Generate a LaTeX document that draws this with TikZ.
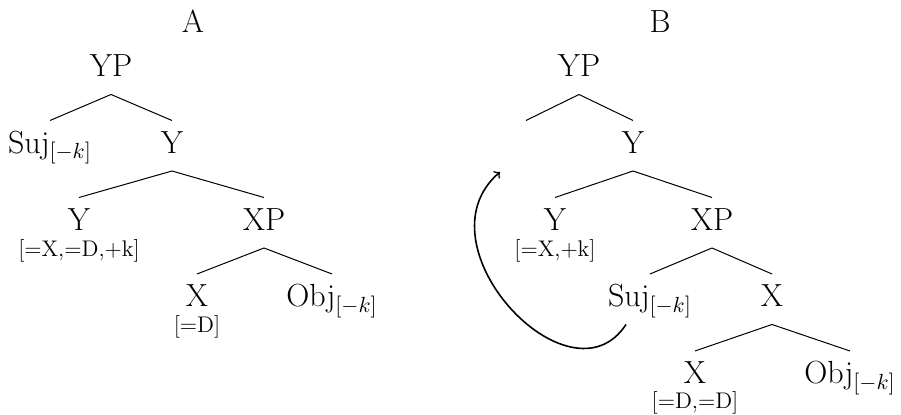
\documentclass[tikz,border=0pt]{standalone}
\begin{document}
\begin{tikzpicture}[x=0.5pt,y=-0.5pt,
  lab/.style={font=\fontsize{16}{19}\selectfont, anchor=base, inner sep=0pt, outer sep=0pt, text height=16.5pt, text depth=8.75pt},
  feat/.style={font=\fontsize{11.3}{13}\selectfont, anchor=base, inner sep=0pt, outer sep=0pt},
  ttl/.style={font=\fontsize{16}{19}\selectfont, anchor=base, inner sep=0pt},
  edge/.style={line width=0.5pt},
  move/.style={line width=0.8pt, ->}]
\useasboundingbox (0,0) rectangle (901,415);

% titles
\node[ttl] (tA) at (193,33) {A};
\node[ttl] (tB) at (660,33) {B};

% ---- Tree A ----
\node[lab] (aYP)  at (111,77)    {YP};
\node[lab] (aSuj) at (50,153.5)  {Suj$_{[-k]}$};
\node[lab] (aY1)  at (172,153.5) {Y};
\node[lab] (aY2)  at (79,230.5)  {Y};
\node[feat] (aY2f) at (79,256.5) {[=X,=D,+k]};
\node[lab] (aXP)  at (264,230.5) {XP};
\node[lab] (aX)   at (197,307)   {X};
\node[feat] (aXf) at (197,333)   {[=D]};
\node[lab] (aObj) at (332,307)   {Obj$_{[-k]}$};

\draw[edge] (aYP.south) -- (aSuj.north);
\draw[edge] (aYP.south) -- (aY1.north);
\draw[edge] (aY1.south) -- (aY2.north);
\draw[edge] (aY1.south) -- (aXP.north);
\draw[edge] (aXP.south) -- (aX.north);
\draw[edge] (aXP.south) -- (aObj.north);

% ---- Tree B ----
\node[lab] (bYP)  at (579,77)    {YP};
\node[lab] (bE)   at (526,153.5) {};
\node[lab] (bY1)  at (633,153.5) {Y};
\node[lab] (bY2)  at (555,230.5) {Y};
\node[feat] (bY2f) at (555,256.5) {[=X,+k]};
\node[lab] (bXP)  at (712,230.5) {XP};
\node[lab] (bSuj) at (650,307)   {Suj$_{[-k]}$};
\node[lab] (bX1)  at (772,307)   {X};
\node[lab] (bX2)  at (695,384)   {X};
\node[feat] (bX2f) at (695,409)  {[=D,=D]};
\node[lab] (bObj) at (850,384)   {Obj$_{[-k]}$};

\draw[edge] (bYP.south) -- (bE.north);
\draw[edge] (bYP.south) -- (bY1.north);
\draw[edge] (bY1.south) -- (bY2.north);
\draw[edge] (bY1.south) -- (bXP.north);
\draw[edge] (bXP.south) -- (bSuj.north);
\draw[edge] (bXP.south) -- (bX1.north);
\draw[edge] (bX1.south) -- (bX2.north);
\draw[edge] (bX1.south) -- (bObj.north);

% movement arrow
\coordinate (arrEnd) at (500,172);
\draw[move] ([xshift=-12pt]bSuj.south) .. controls (570,410) and (415,245) .. (arrEnd);
\end{tikzpicture}
\end{document}
